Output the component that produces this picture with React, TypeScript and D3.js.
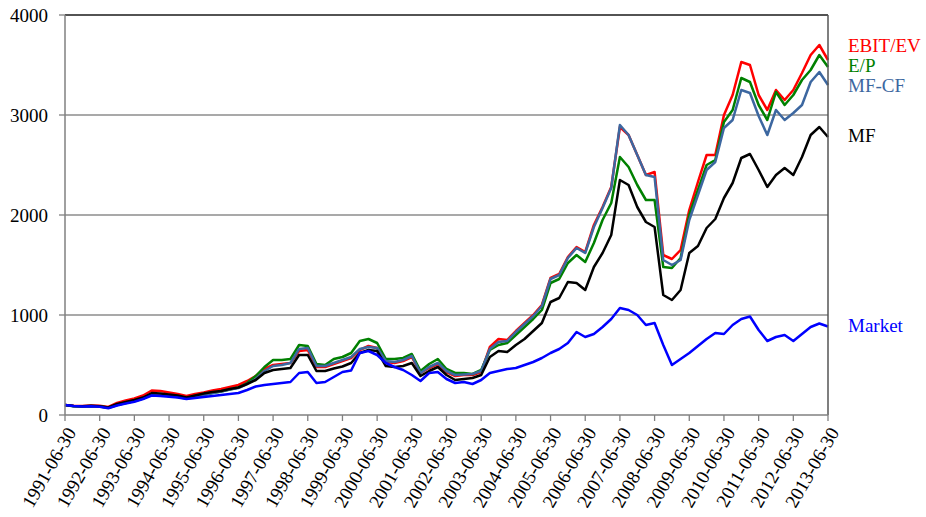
import React from "react";
import * as d3 from "d3";

// Quarter-end observations from 1991-06-30 to 2013-06-30 (89 points)
const START_YEAR = 1991.5;
const END_YEAR = 2013.5;

const ebitEv = [
  100, 92, 90, 95, 92, 80, 120, 145, 165, 195, 245, 240, 225, 210, 190, 210, 225, 245, 260, 280,
  300, 340, 390, 460, 500, 510, 520, 640, 650, 480, 480, 510, 540, 570, 650, 690, 670, 530, 520, 540,
  580, 420, 470, 510, 430, 390, 400, 400, 430, 680, 760, 750, 840, 920, 1000, 1100, 1370, 1410, 1580, 1680,
  1630, 1900, 2080, 2280, 2880, 2800, 2600, 2400, 2430, 1600, 1560, 1650, 2050, 2330, 2600, 2600, 3000, 3200, 3530, 3500,
  3200, 3050, 3250, 3150, 3250, 3420, 3600, 3700, 3550,
];

const eP = [
  100, 88, 84, 88, 85, 72, 100, 120, 140, 165, 205, 200, 190, 180, 165, 180, 200, 220, 235, 255,
  275, 320, 390, 480, 550, 550, 560, 700, 690, 510, 500, 560, 580, 620, 740, 760, 720, 560, 560, 570,
  610, 440, 510, 560, 460, 420, 420, 410, 450, 650, 700, 720, 800, 880, 960, 1050, 1320, 1360, 1520, 1600,
  1530, 1720, 1950, 2120, 2580, 2480, 2300, 2150, 2150, 1480, 1470, 1570, 2000, 2250, 2500, 2550, 2930, 3050, 3370, 3330,
  3100, 2950, 3230, 3100, 3200, 3350, 3450, 3600, 3480,
];

const mfCf = [
  100, 88, 85, 90, 86, 72, 100, 120, 140, 165, 205, 200, 195, 185, 170, 185, 200, 220, 235, 255,
  270, 310, 360, 440, 490, 500, 520, 660, 670, 490, 490, 520, 550, 580, 660, 680, 670, 540, 530, 550,
  590, 420, 480, 520, 440, 400, 405, 410, 440, 660, 730, 740, 830, 910, 990, 1090, 1360, 1400, 1570, 1670,
  1620, 1880, 2070, 2270, 2900, 2800, 2600, 2400, 2380, 1550, 1500, 1550, 1950, 2200, 2450, 2530, 2870, 2950, 3250, 3220,
  2990, 2800, 3050, 2950, 3020, 3100, 3330, 3430, 3300,
];

const mf = [
  100, 90, 88, 92, 88, 75, 110, 130, 150, 175, 220, 215, 205, 195, 175, 195, 215, 230, 240, 260,
  275, 310, 350, 420, 450, 460, 470, 600, 600, 440, 440, 465, 485, 520, 620, 650, 640, 490, 480, 490,
  520, 390, 440, 480, 400, 350, 360, 370, 400, 580, 640, 630, 700, 760, 840, 920, 1130, 1170, 1330, 1320,
  1250, 1480, 1620, 1800, 2350, 2300, 2080, 1930, 1880, 1200, 1150, 1250, 1620, 1690, 1870, 1960, 2170, 2320, 2570, 2610,
  2450, 2280, 2400, 2470, 2400, 2580, 2800, 2880, 2780,
];

const market = [
  100, 90, 85, 88, 83, 68, 95, 115, 133, 160, 195, 190, 183, 175, 160, 170, 180, 190, 200, 210,
  220, 250, 285, 300, 310, 320, 330, 420, 430, 320, 330, 380, 430, 445, 620, 640, 600, 520, 480, 450,
  400, 340, 420, 430, 360, 320, 330, 310, 350, 420, 440, 460, 470, 500, 530, 570, 620, 660, 720, 830,
  780, 810, 880, 960, 1070, 1050, 1000, 900, 920, 700, 500, 560, 620, 690, 760, 820, 810, 900, 960, 985,
  850, 740, 780, 800, 740, 810, 880, 915, 885,
];

const yTicks = [0, 1000, 2000, 3000, 4000];
const xTickYears = d3.range(1991, 2014);

const seriesDefs = [
  { name: "EBIT/EV", values: ebitEv, color: "#ff0000", labelY: 52 },
  { name: "E/P", values: eP, color: "#008000", labelY: 72 },
  { name: "MF-CF", values: mfCf, color: "#3c67a0", labelY: 92 },
  { name: "MF", values: mf, color: "#000000", labelY: 142 },
  { name: "Market", values: market, color: "#0000ff", labelY: 332 },
];

const W = 926;
const H = 517;
const left = 65;
const right = 828;
const top = 15;
const bottom = 415;

const FONT = '"Liberation Serif", "Times New Roman", Times, "DejaVu Serif", serif';
const textStyle: React.CSSProperties = { fontFamily: FONT, fontSize: "19px" };

export default function App() {
  const x = d3.scaleLinear().domain([START_YEAR, END_YEAR]).range([left, right]);
  const y = d3.scaleLinear().domain([0, 4000]).range([bottom, top]);
  const line = d3
    .line<number>()
    .x((_, i) => x(START_YEAR + i * 0.25))
    .y((v) => y(v));

  return (
    <div style={{ position: "absolute", left: 0, top: 0 }}>
      <svg width={W} height={H} style={{ display: "block", background: "#fff" }}>
        {yTicks.slice(1, -1).map((t) => (
          <line key={t} x1={left} x2={right} y1={y(t)} y2={y(t)} stroke="#8c8c8c" strokeWidth={1.3} />
        ))}
        {seriesDefs.map((s) => (
          <path
            key={s.name}
            d={line(s.values) || ""}
            fill="none"
            stroke={s.color}
            strokeWidth={2.5}
            strokeLinejoin="round"
          />
        ))}
        <line x1={left} x2={right} y1={top} y2={top} stroke="#1a1a1a" strokeWidth={1.5} />
        <line x1={right} x2={right} y1={top} y2={bottom} stroke="#555" strokeWidth={1.5} />
        <line x1={left} x2={left} y1={top} y2={bottom} stroke="#808080" strokeWidth={1.5} />
        <line x1={left} x2={right} y1={bottom} y2={bottom} stroke="#808080" strokeWidth={1.5} />
        {yTicks.map((t) => (
          <g key={t}>
            <line x1={left - 6} x2={left} y1={y(t)} y2={y(t)} stroke="#808080" strokeWidth={1.3} />
            <text x={48} y={y(t)} dy="0.35em" textAnchor="end" style={textStyle} fill="#000">
              {t}
            </text>
          </g>
        ))}
        {xTickYears.map((yr) => {
          const xp = x(yr + 0.5);
          return (
            <g key={yr}>
              <line x1={xp} x2={xp} y1={bottom} y2={bottom + 6} stroke="#808080" strokeWidth={1.3} />
              <text
                transform={`translate(${xp + 6},${bottom + 14}) rotate(-60)`}
                textAnchor="end"
                dy="0.35em"
                style={textStyle}
                fill="#000"
              >
                {`${yr}-06-30`}
              </text>
            </g>
          );
        })}
        {seriesDefs.map((s) => (
          <text key={s.name} x={848} y={s.labelY} style={textStyle} fill={s.color}>
            {s.name}
          </text>
        ))}
      </svg>
    </div>
  );
}
